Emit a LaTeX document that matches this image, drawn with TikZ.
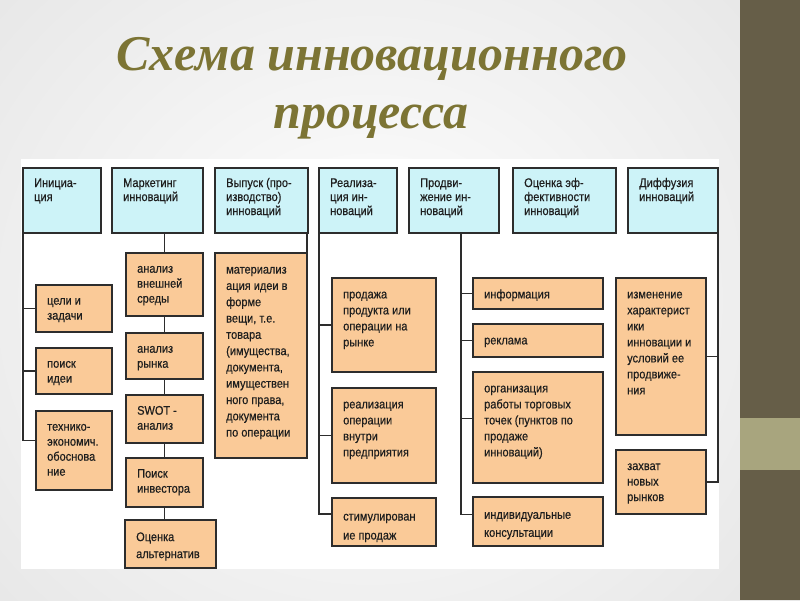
\documentclass[tikz,border=0pt]{standalone}
\usepackage{fontspec}
\setmainfont{Liberation Sans}
\newfontfamily\boxfont{Liberation Sans}[FakeStretch=0.88,FakeBold=0.4]
\newfontfamily\titlefont{Liberation Serif}
\definecolor{bluef}{RGB}{205,243,248}
\definecolor{orf}{RGB}{250,202,152}
\definecolor{linec}{RGB}{45,45,45}
\definecolor{textc}{RGB}{30,30,30}
\definecolor{titlec}{RGB}{124,116,52}
\definecolor{stripc}{RGB}{102,94,72}
\definecolor{bandc}{RGB}{168,165,126}
\tikzset{
  hdr/.style={draw=linec, line width=1.6pt, fill=bluef, inner sep=0pt, outer sep=0pt, anchor=north west},
  sub/.style={draw=linec, line width=1.6pt, fill=orf, inner sep=0pt, outer sep=0pt, anchor=north west},
  txt/.style={inner sep=0pt, anchor=north west, align=left, text=textc, font=\boxfont\fontsize{12.5}{#1}\selectfont},
  txt/.default=15,
  conn/.style={draw=linec, line width=1.5pt},
  ttl/.style={inner sep=0pt, anchor=base, text=titlec, font=\titlefont\bfseries\itshape\fontsize{50}{60}\selectfont},
}
\newcommand\mybox[8]{%
  \node[#2, minimum width={#5-#3}, minimum height={#6-#4}] (#1) at (#3,#4) {};
  \node[txt=#7] (#1-t) at ([xshift=11pt,yshift=-9pt]#1.north west) {\strut #8};
}
\begin{document}
\begin{tikzpicture}[x=1pt,y=-1pt]
\useasboundingbox (0,0) rectangle (800,600);
% background
\shade[inner color=white, outer color=black!9] (-120,-150) rectangle (860,750);
\fill[stripc] (740,0) rectangle (800,600);
\fill[bandc] (740,418) rectangle (800,470);
\fill[white] (21,159) rectangle (719,569);
% title
\node[ttl] (t1) at (372,70) {Схема инновационного};
\node[ttl] (t2) at (371,128) {процесса};
% header boxes
\mybox{i}{hdr}{23}{168}{101}{233}{14}{Инициа-\\ция}
\mybox{m}{hdr}{112}{168}{203}{233}{14}{Маркетинг\\инноваций}
\mybox{v}{hdr}{215}{168}{308}{233}{14}{Выпуск (про-\\изводство)\\инноваций}
\mybox{r}{hdr}{319}{168}{397}{233}{14}{Реализа-\\ция ин-\\новаций}
\mybox{p}{hdr}{409}{168}{499}{233}{14}{Продви-\\жение ин-\\новаций}
\mybox{o}{hdr}{513}{168}{616}{233}{14}{Оценка эф-\\фективности\\инноваций}
\mybox{d}{hdr}{628}{168}{718}{233}{14}{Диффузия\\инноваций}
% column 1
\mybox{c1}{sub}{36}{285}{112}{332}{15}{цели и\\задачи}
\mybox{c2}{sub}{36}{348}{112}{394}{15}{поиск\\идеи}
\mybox{c3}{sub}{36}{411}{112}{490}{15}{технико-\\экономич.\\обоснова\\ние}
% column 2
\mybox{a1}{sub}{126}{253}{203}{316}{15}{анализ\\внешней\\среды}
\mybox{a2}{sub}{126}{333}{203}{379}{15}{анализ\\рынка}
\mybox{a3}{sub}{126}{395}{203}{443}{15}{SWOT -\\анализ}
\mybox{a4}{sub}{126}{458}{203}{507}{15}{Поиск\\инвестора}
\mybox{a5}{sub}{125}{520}{216}{568}{17}{Оценка\\альтернатив}
% column 3
\mybox{mat}{sub}{215}{253}{307}{458}{16.3}{материализ\\ация идеи в\\форме\\вещи, т.е.\\товара\\(имущества,\\документа,\\имуществен\\ного права,\\документа\\по операции}
% column 4
\mybox{s1}{sub}{332}{278}{436}{372}{16}{продажа\\продукта или\\операции на\\рынке}
\mybox{s2}{sub}{332}{388}{436}{483}{16}{реализация\\операции\\внутри\\предприятия}
\mybox{s3}{sub}{332}{498}{436}{546}{19}{стимулирован\\ие продаж}
% column 5
\mybox{q1}{sub}{473}{278}{603}{309}{16}{информация}
\mybox{q2}{sub}{473}{324}{603}{357}{16}{реклама}
\mybox{q3}{sub}{473}{372}{603}{483}{16}{организация\\работы торговых\\точек (пунктов по\\продаже\\инноваций)}
\mybox{q4}{sub}{473}{497}{603}{546}{18}{индивидуальные\\консультации}
% column 7
\mybox{e1}{sub}{616}{278}{706}{435}{16}{изменение\\характерист\\ики\\инновации и\\условий ее\\продвиже-\\ния}
\mybox{e2}{sub}{616}{450}{706}{514}{15.5}{захват\\новых\\рынков}
% connectors: initiation
\draw[conn] (i.south west) |- ([yshift=10pt]c3.west);
\draw[conn] (i.south west) |- (c1.west);
\draw[conn] (i.south west) |- (c2.west);
% marketing chain
\draw[conn] (a1.north) -- (a1.north |- m.south);
\draw[conn] (a1.south) -- (a2.north);
\draw[conn] (a2.south) -- (a3.north);
\draw[conn] (a3.south) -- (a4.north);
\draw[conn] (a4.south) -- (a4.south |- a5.north);
% release
\draw[conn] (mat.north east) -- (mat.north east |- v.south);
% realization
\draw[conn] (r.south west) |- ([yshift=8pt]s3.west);
\draw[conn] (r.south west) |- (s1.west);
\draw[conn] (r.south west) |- (s2.west);
% promotion
\draw[conn] ([xshift=7pt]p.south) |- ([yshift=7pt]q4.west);
\draw[conn] ([xshift=7pt]p.south) |- (q1.west);
\draw[conn] ([xshift=7pt]p.south) |- (q2.west);
\draw[conn] ([xshift=7pt]p.south) |- ([yshift=9pt]q3.west);
% diffusion
\draw[conn] (d.south east) |- (e2.east);
\draw[conn] (d.south east) |- (e1.east);
\end{tikzpicture}
\end{document}
